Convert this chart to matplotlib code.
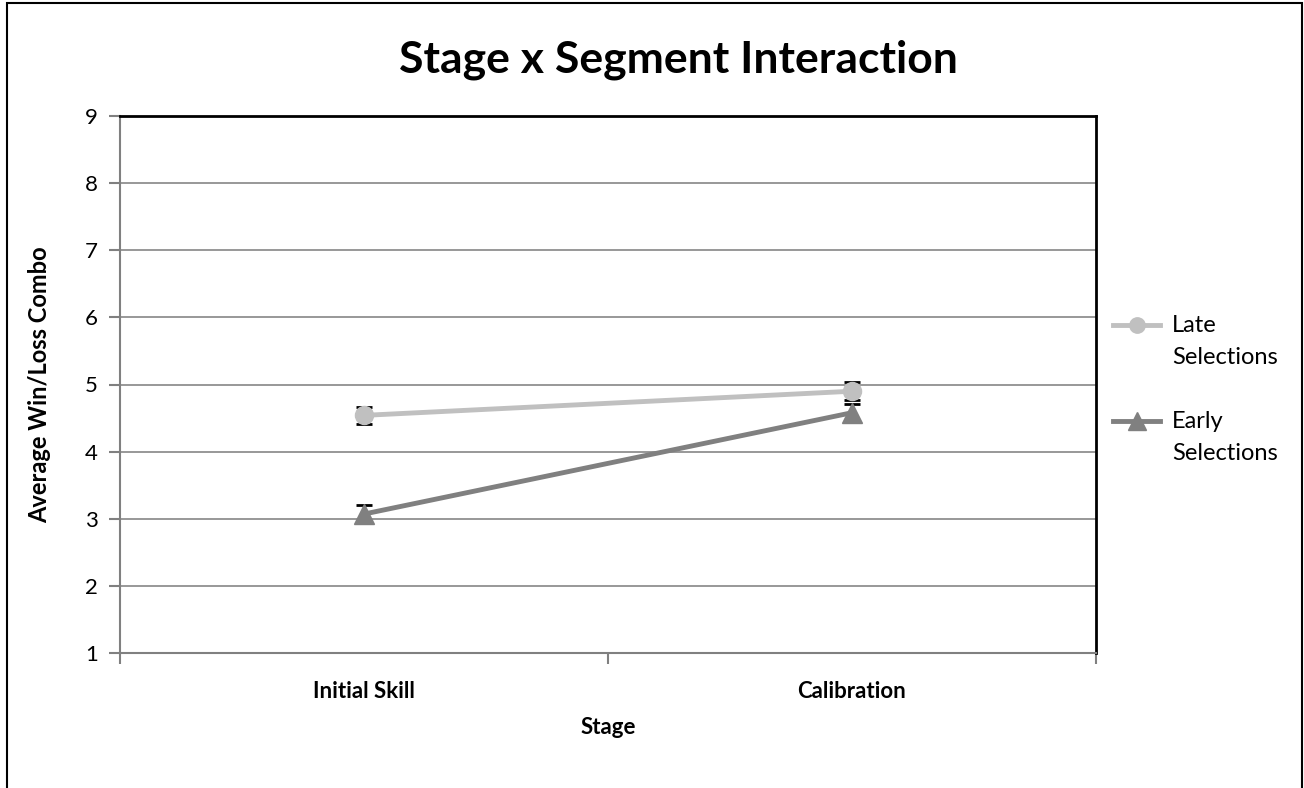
import matplotlib.pyplot as plt
from matplotlib.lines import Line2D
import numpy as np

STAGES = ["Initial Skill", "Calibration"]
LATE_MEANS = [4.54, 4.90]
LATE_ERR = [0.13, 0.13]
EARLY_MEANS = [3.07, 4.58]
EARLY_ERR = [0.13, 0.13]
SERIES_LABELS = ["Late\nSelections", "Early\nSelections"]

plt.rcParams["font.family"] = ["Lato", "DejaVu Sans"]

fig = plt.figure(figsize=(13.04, 7.88), dpi=100)
ax = fig.add_axes([120 / 1304, 1 - 653 / 788, 976 / 1304, 537 / 788])

# outer chart frame
fig.patches.append(plt.Rectangle((7 / 1304, -0.01), 1295 / 1304, 1 - 3 / 788 + 0.01,
                                 transform=fig.transFigure, fill=False,
                                 edgecolor="black", lw=1.5))

x = np.array([0.5, 1.5])
series = [
    (LATE_MEANS, LATE_ERR, "#c0c0c0", "o", 13),
    (EARLY_MEANS, EARLY_ERR, "#808080", "^", 15),
]
for means, err, color, marker, ms in series:
    ax.errorbar(x, means, yerr=err, fmt="none", ecolor="black", elinewidth=1.2,
                capsize=6, capthick=2, zorder=3)
    ax.plot(x, means, color=color, lw=3.5, marker=marker, ms=ms, zorder=4)

ax.set_xlim(0, 2)
ax.set_ylim(1, 9)
ax.set_yticks(range(1, 10))
ax.set_xticks([0, 1, 2])
ax.set_xticklabels([])
ax.set_xticks(x, minor=True)
ax.set_xticklabels(STAGES, minor=True, fontsize=16, fontweight="bold")
ax.tick_params(axis="x", which="minor", length=0, pad=20)
ax.tick_params(axis="x", which="major", length=8, color="#808080", width=1.5)
ax.tick_params(axis="y", length=8, color="#808080", width=1.5, labelsize=16, pad=8)
ax.yaxis.grid(True, color="#868686", lw=1.2)
ax.set_axisbelow(True)

for side in ["top", "right"]:
    ax.spines[side].set_color("black")
    ax.spines[side].set_linewidth(2)
for side in ["left", "bottom"]:
    ax.spines[side].set_color("#808080")
    ax.spines[side].set_linewidth(1.5)

ax.set_xlabel("Stage", fontsize=16, fontweight="bold", labelpad=11)
ax.set_ylabel("Average Win/Loss Combo", fontsize=17, fontweight="bold", labelpad=24)
fig.suptitle("Stage x Segment Interaction", fontsize=32, fontweight="bold",
             x=0.52, y=0.95)

# legend to the right, marker aligned with the first line of each label
for i, (means, err, color, marker, ms) in enumerate(series):
    y0 = 0.611 - i * 0.179
    ax.add_line(Line2D([1.0175, 1.0655], [y0, y0], color=color, lw=3.5,
                       transform=ax.transAxes, clip_on=False))
    ax.add_line(Line2D([1.0415], [y0], color=color, marker=marker, ms=ms * 0.85,
                       transform=ax.transAxes, clip_on=False))
    ax.text(1.078, y0 + 0.019, SERIES_LABELS[i], transform=ax.transAxes,
            fontsize=17, va="top", ha="left", linespacing=1.65)

fig.savefig("out.png", dpi=100)
